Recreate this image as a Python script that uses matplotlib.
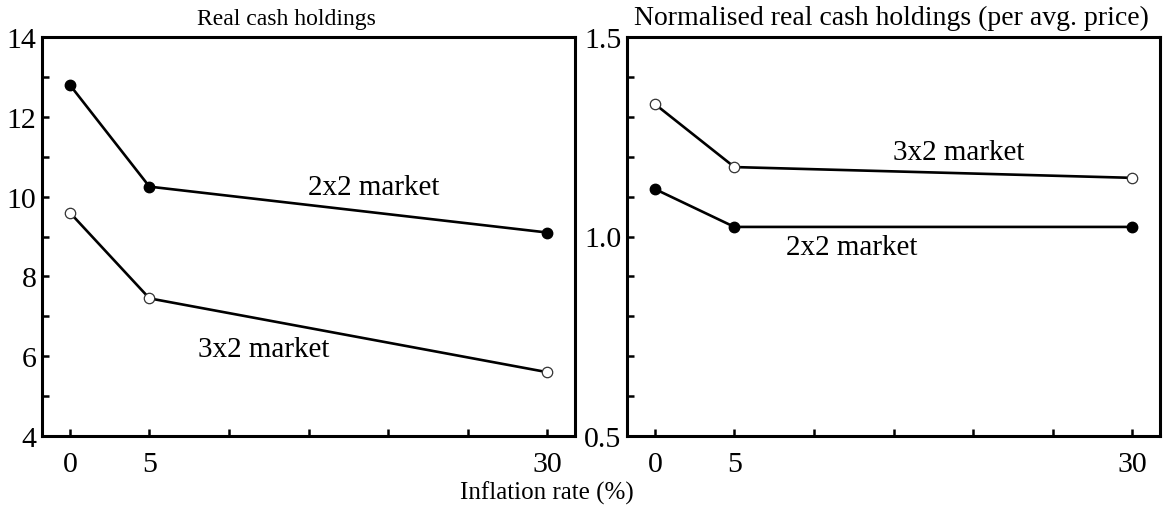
import matplotlib
matplotlib.use("Agg")
import matplotlib.pyplot as plt
from matplotlib.ticker import FixedLocator, MultipleLocator, FormatStrFormatter

plt.rcParams['font.family'] = ['Liberation Serif', 'DejaVu Serif']
plt.rcParams['mathtext.fontset'] = 'stix'

# Data
inflation = [0, 5, 30]
real_2x2 = [12.8, 10.25, 9.1]
real_3x2 = [9.6, 7.45, 5.6]
norm_3x2 = [1.332, 1.174, 1.147]
norm_2x2 = [1.119, 1.024, 1.024]

titles = ["Real cash holdings", "Normalised real cash holdings (per avg. price)"]
xlabel = "Inflation rate (%)"
series_labels = ["2x2 market", "3x2 market"]
xtick_major = [0, 5, 30]
xtick_minor = [10, 15, 20, 25]

W, H = 1172, 510
fig = plt.figure(figsize=(W / 100, H / 100), dpi=100)

def px_axes(x0, x1, ytop, ybot):
    return fig.add_axes([x0 / W, 1 - ybot / H, (x1 - x0) / W, (ybot - ytop) / H])

ax1 = px_axes(42, 575, 38, 437)
ax2 = px_axes(627, 1160, 38, 437)

lw = 1.9
ms = 7.5

def style(ax):
    for s in ax.spines.values():
        s.set_linewidth(2.2)
    ax.tick_params(which='both', direction='in', length=5, width=1.8,
                   labelsize=21.5, top=False, right=False)
    ax.tick_params(axis='x', which='both', pad=11)
    ax.tick_params(axis='y', which='both', pad=4)
    ax.xaxis.set_major_locator(FixedLocator(xtick_major))
    ax.xaxis.set_minor_locator(FixedLocator(xtick_minor))
    ax.set_xlim(-1.75, 31.75)

# Left panel
ax1.plot(inflation, real_2x2, color='black', lw=lw, marker='o', ms=ms,
         mfc='black', mec='black', zorder=3)
ax1.plot(inflation, real_3x2, color='black', lw=lw, marker='o', ms=ms,
         mfc='white', mec='#333333', mew=0.9, zorder=3)
ax1.set_ylim(4, 14)
ax1.yaxis.set_major_locator(MultipleLocator(2))
ax1.yaxis.set_minor_locator(MultipleLocator(1))
style(ax1)
ax1.text(19.1, 10.24, series_labels[0], fontsize=21, ha='center', va='center')
ax1.text(12.2, 6.18, series_labels[1], fontsize=21, ha='center', va='center')
fig.text(286 / W, 1 - 25 / H, titles[0], fontsize=17, ha='center', va='baseline')

# Right panel
ax2.plot(inflation, norm_3x2, color='black', lw=lw, marker='o', ms=ms,
         mfc='white', mec='#333333', mew=0.9, zorder=3)
ax2.plot(inflation, norm_2x2, color='black', lw=lw, marker='o', ms=ms,
         mfc='black', mec='black', zorder=3)
ax2.set_ylim(0.5, 1.5)
ax2.yaxis.set_major_locator(MultipleLocator(0.5))
ax2.yaxis.set_minor_locator(MultipleLocator(0.1))
ax2.yaxis.set_major_formatter(FormatStrFormatter('%.1f'))
style(ax2)
ax2.text(19.1, 1.212, series_labels[1], fontsize=21, ha='center', va='center')
ax2.text(12.4, 0.974, series_labels[0], fontsize=21, ha='center', va='center')
fig.text(891 / W, 1 - 25 / H, titles[1], fontsize=20, ha='center', va='baseline')

fig.text(547 / W, 1 - 493 / H, xlabel, fontsize=18, ha='center', va='center')

fig.savefig("out.png", dpi=100)
